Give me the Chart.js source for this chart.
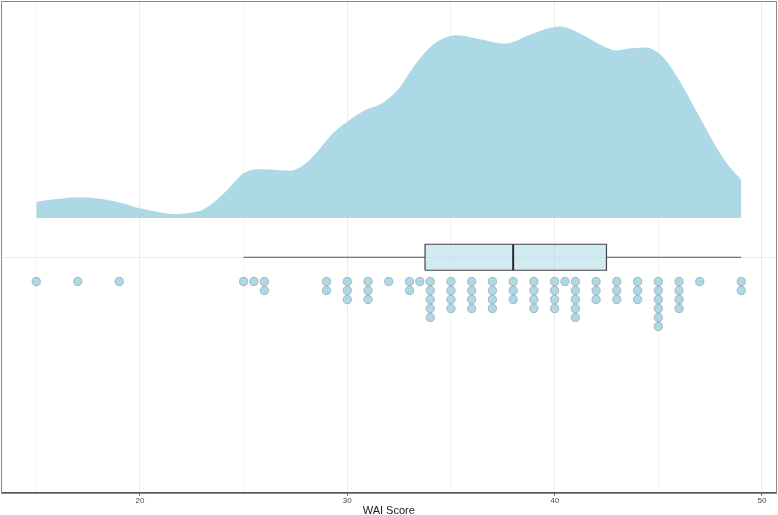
<!DOCTYPE html>
<html><head><meta charset="utf-8">
<script src="https://cdn.jsdelivr.net/npm/chart.js@4/dist/chart.umd.min.js"></script>
<style>html,body{margin:0;padding:0;background:#fff}canvas{display:block}</style>
</head><body>
<canvas id="c" width="778" height="515"></canvas>
<script>
// ---- data ----
const densityX = [15, 16, 17, 18, 19, 20, 21, 21.7, 22.5, 23, 23.7, 24.3, 25, 25.9, 26.6, 27.2, 28, 28.7, 29.3, 30, 30.9, 31.7, 32.5, 33.1, 33.65, 34.2, 34.8, 35.3, 36.4, 37.6, 38.8, 39.5, 40.24, 41.5, 42.3, 42.97, 43.7, 44.4, 45.2, 46.0, 46.8, 47.6, 48.3, 49];
const densityRel = [0.085, 0.099, 0.108, 0.102, 0.081, 0.051, 0.029, 0.021, 0.029, 0.042, 0.094, 0.157, 0.234, 0.255, 0.251, 0.247, 0.286, 0.366, 0.443, 0.503, 0.565, 0.601, 0.678, 0.774, 0.852, 0.910, 0.945, 0.955, 0.934, 0.910, 0.957, 0.985, 1.0, 0.948, 0.899, 0.875, 0.886, 0.890, 0.843, 0.721, 0.565, 0.408, 0.286, 0.199];
const dotValues = [15, 17, 19, 25, 25.5, 26, 29, 30, 31, 32, 33, 33.5, 34, 35, 36, 37, 38, 39, 40, 40.5, 41, 42, 43, 44, 45, 46, 47, 49];
const dotCounts = [1, 1, 1, 1, 1, 2, 2, 3, 3, 1, 2, 1, 5, 4, 4, 4, 3, 4, 4, 1, 5, 3, 3, 3, 6, 4, 1, 2];
const boxWhiskers = [25, 49];
const boxQuartiles = [33.75, 38, 42.5]; // Q1, median, Q3
const xTickValues = [15, 20, 25, 30, 35, 40, 45, 50];
const xTickLabels = ['', '20', '', '30', '', '40', '', '50'];
const xTitle = 'WAI Score';

// ---- layout constants (y units = pixels relative to the box centre) ----
const Y_MIN = -235, Y_MAX = 256;
const DENSITY_BASE = 39.2, DENSITY_HEIGHT = 191.3;
const BOX_HALF = 13;
const DOT_START = -24.2, DOT_STEP = 9;
const BLUE = '#ADD8E6';

const densityPts = densityX.map((x, i) => ({x, y: DENSITY_BASE + densityRel[i] * DENSITY_HEIGHT}));
const dotPts = [];
dotValues.forEach((v, i) => { for (let k = 0; k < dotCounts[i]; k++) dotPts.push({x: v, y: DOT_START - k * DOT_STEP}); });
const [q1, med, q3] = boxQuartiles;

const borderPlugin = {
  id: 'panelBorder',
  afterDraw(chart) {
    const a = chart.chartArea, ctx = chart.ctx;
    ctx.save();
    ctx.strokeStyle = '#8a8a8a';
    ctx.lineWidth = 1;
    ctx.strokeRect(Math.round(a.left) + 0.5, Math.round(a.top) + 0.5, Math.round(a.right - a.left) - 1, Math.round(a.bottom - a.top));
    ctx.restore();
  }
};
const noPad = s => { s.paddingLeft = 0; s.paddingRight = 0; s.paddingTop = 0; s.paddingBottom = 0; };

const lineDs = (data, color, width) => ({type: 'scatter', data, showLine: true, pointRadius: 0, pointHoverRadius: 0, borderColor: color, borderWidth: width, fill: false});

new Chart(document.getElementById('c'), {
  type: 'scatter',
  data: {
    datasets: [
      {
        type: 'scatter', data: dotPts, showLine: false, pointRadius: 4.1, pointBorderWidth: 1, pointHoverRadius: 4.1,
        pointBackgroundColor: BLUE, pointBorderColor: '#a6b4b9'
      },
      lineDs([{x: med, y: -BOX_HALF}, {x: med, y: BOX_HALF}], '#2b2b2b', 2),
      Object.assign(lineDs([{x: q1, y: -BOX_HALF}, {x: q1, y: BOX_HALF}, {x: q3, y: BOX_HALF}, {x: q3, y: -BOX_HALF}, {x: q1, y: -BOX_HALF}], '#444', 1.2), {fill: 'shape', backgroundColor: 'rgba(173,216,230,0.55)'}),
      lineDs([{x: boxWhiskers[0], y: 0}, {x: q1, y: 0}], '#555', 1.1),
      lineDs([{x: q3, y: 0}, {x: boxWhiskers[1], y: 0}], '#555', 1.1),
      {type: 'scatter', data: densityPts, showLine: true, pointRadius: 0, borderWidth: 0, borderColor: 'rgba(0,0,0,0)',
       backgroundColor: BLUE, fill: {value: DENSITY_BASE}, cubicInterpolationMode: 'monotone'}
    ]
  },
  options: {
    responsive: false, animation: false, devicePixelRatio: 1,
    layout: {autoPadding: false, padding: {left: 1, right: 1.5, top: 1, bottom: 0}},
    plugins: {legend: {display: false}, tooltip: {enabled: false}},
    scales: {
      x: {
        type: 'linear', min: 13.3, max: 50.7,
        afterBuildTicks: s => { s.ticks = xTickValues.map(v => ({value: v})); },
        afterFit: s => { s.height = 22.5; noPad(s); },
        ticks: {callback: v => xTickLabels[xTickValues.indexOf(v)] ?? '', color: '#4d4d4d', font: {family: 'Liberation Sans', size: 8}, padding: 0, maxRotation: 0, autoSkip: false},
        grid: {
          color: c => (c.tick && c.tick.value % 10 === 0) ? '#ebebeb' : '#f4f4f4',
          lineWidth: 1, tickLength: 3,
          tickColor: c => (c.tick && c.tick.value % 10 === 0) ? '#444' : 'rgba(0,0,0,0)'
        },
        border: {color: '#555', width: 1},
        title: {display: true, text: xTitle, color: '#1a1a1a', font: {family: 'Liberation Sans', size: 11, lineHeight: 0.8}, padding: 0}
      },
      y: {
        type: 'linear', min: Y_MIN, max: Y_MAX,
        afterBuildTicks: s => { s.ticks = [{value: 0}]; },
        afterFit: s => { s.width = 0; noPad(s); },
        ticks: {display: false},
        grid: {color: '#ebebeb', drawTicks: false, lineWidth: 1},
        border: {display: false}
      }
    }
  },
  plugins: [borderPlugin]
});
</script>
</body></html>
